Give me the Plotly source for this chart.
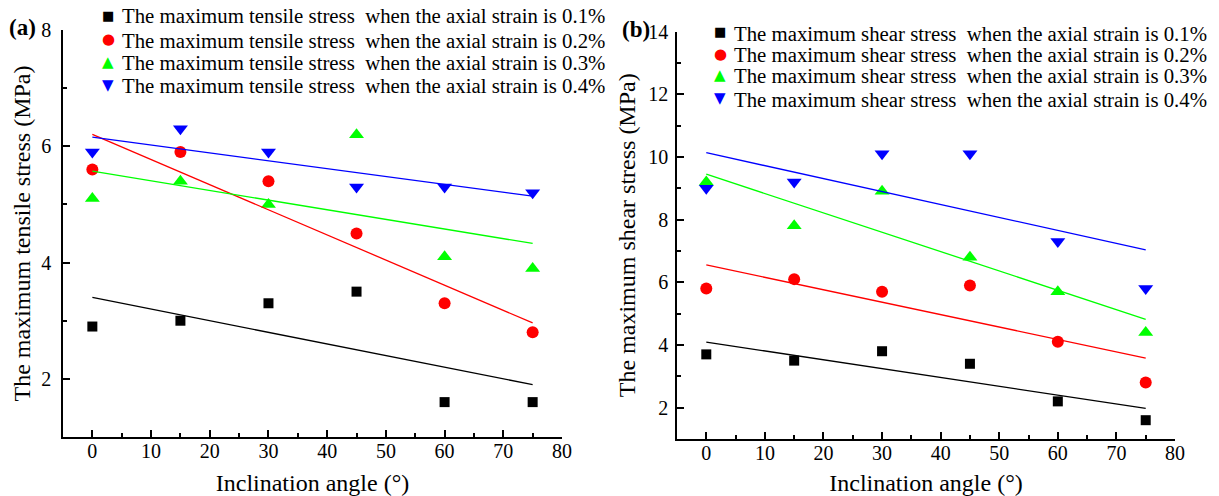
import numpy as np
import plotly.graph_objects as go

angles = [0, 15, 30, 45, 60, 75]
strain_labels = ["0.1%", "0.2%", "0.3%", "0.4%"]

tensile_01 = [2.9, 3.0, 3.3, 3.5, 1.6, 1.6]
tensile_02 = [5.6, 5.9, 5.4, 4.5, 3.3, 2.8]
tensile_03 = [5.1, 5.4, 5.0, 6.2, 4.1, 3.9]
tensile_04 = [5.9, 6.3, 5.9, 5.3, 5.3, 5.2]

shear_01 = [3.7, 3.5, 3.8, 3.4, 2.2, 1.6]
shear_02 = [5.8, 6.1, 5.7, 5.9, 4.1, 2.8]
shear_03 = [9.2, 7.8, 8.9, 6.8, 5.7, 4.4]
shear_04 = [9.0, 9.2, 10.1, 10.1, 7.3, 5.8]

colors = ["#000000", "#FF0000", "#00FF00", "#0000FF"]
symbols = ["square", "circle", "triangle-up", "triangle-down"]
glyphs = ["\u25A0", "\u25CF", "\u25B2", "\u25BC"]
glyph_sizes = [13, 15, 15, 15]
sizes = [10, 12, 13, 13]
FONT = "Liberation Serif"

W, H = 1219, 496
fig = go.Figure()
annotations = []


def add_panel(series, kind, xa, ya, leg_x, leg_rows):
    for i, ys in enumerate(series):
        name = f"The maximum {kind} stress \u00a0when the axial strain is {strain_labels[i]}"
        fig.add_trace(go.Scatter(
            x=angles, y=ys, mode="markers", xaxis=xa, yaxis=ya, name=name,
            marker=dict(symbol=symbols[i], color=colors[i], size=sizes[i], line=dict(width=0)),
            showlegend=False,
        ))
        # legend row (symbol + text) as annotations
        annotations.append(dict(
            text=f"<span style='color:{colors[i]}'>{glyphs[i]}</span>",
            x=leg_x / W, y=1 - leg_rows[i] / H, xref="paper", yref="paper",
            xanchor="center", yanchor="middle", showarrow=False,
            font=dict(family="DejaVu Sans", size=glyph_sizes[i], color=colors[i])))
        annotations.append(dict(
            text=name, x=(leg_x + 12) / W, y=1 - (leg_rows[i] + 1) / H, xref="paper", yref="paper",
            xanchor="left", yanchor="middle", showarrow=False,
            font=dict(family=FONT, size=20.8, color="black")))
    for i, ys in enumerate(series):
        k, b = np.polyfit(angles, ys, 1)
        xs = [angles[0], angles[-1]]
        fig.add_trace(go.Scatter(
            x=xs, y=[k * v + b for v in xs], mode="lines", xaxis=xa, yaxis=ya,
            line=dict(color=colors[i], width=1.3), showlegend=False, hoverinfo="skip",
        ))


add_panel([tensile_01, tensile_02, tensile_03, tensile_04], "tensile", "x", "y", 108, [15, 39, 62, 85])
add_panel([shear_01, shear_02, shear_03, shear_04], "shear", "x2", "y2", 720, [32, 54, 75, 98])

axis_common = dict(
    showline=True, linecolor="black", linewidth=1.5, mirror=False,
    ticks="inside", ticklen=7, tickwidth=1.5, tickcolor="black",
    showgrid=False, zeroline=False, automargin=False,
    tickfont=dict(family=FONT, size=20, color="black"),
    minor=dict(ticks="inside", ticklen=4, tickwidth=1.5, tickcolor="black", showgrid=False),
)

xdom_a = [63 / W, 562 / W]
xdom_b = [677 / W, 1175 / W]
ydom_a = [1 - 437 / H, 1 - 30 / H]
ydom_b = [1 - 439 / H, 1 - 31.5 / H]
TITLE = dict(family=FONT, size=24, color="black")

fig.update_layout(
    width=W, height=H,
    margin=dict(l=0, r=0, t=0, b=0),
    paper_bgcolor="white", plot_bgcolor="white",
    font=dict(family=FONT, color="black"),
    showlegend=False,
    xaxis=dict(domain=xdom_a, range=[-5, 80], dtick=10, tick0=0, anchor="y",
               minor_dtick=5, ticklabelstandoff=-5,
               title=dict(text="Inclination angle (°)", font=TITLE, standoff=13),
               **axis_common),
    yaxis=dict(domain=ydom_a, range=[1, 8], dtick=2, tick0=0, anchor="x",
               minor_dtick=1, ticklabelstandoff=6,
               title=dict(text="The maximum tensile stress (MPa)", font=TITLE, standoff=4),
               **axis_common),
    xaxis2=dict(domain=xdom_b, range=[-5, 80], dtick=10, tick0=0, anchor="y2",
                minor_dtick=5, ticklabelstandoff=-5,
                title=dict(text="Inclination angle (°)", font=TITLE, standoff=13),
                **axis_common),
    yaxis2=dict(domain=ydom_b, range=[1, 14], dtick=2, tick0=0, anchor="x2",
                minor_dtick=1, ticklabelstandoff=3,
                title=dict(text="The maximum shear stress (MPa)", font=TITLE, standoff=6),
                **axis_common),
    annotations=annotations + [
        dict(text="<b>(a)</b>", x=7 / W, y=1 - 28 / H, xref="paper", yref="paper",
             xanchor="left", yanchor="middle", showarrow=False,
             font=dict(family=FONT, size=23, color="black")),
        dict(text="<b>(b)</b>", x=620 / W, y=1 - 29 / H, xref="paper", yref="paper",
             xanchor="left", yanchor="middle", showarrow=False,
             font=dict(family=FONT, size=23, color="black")),
    ],
)

fig.write_html("out.html", config={"displayModeBar": False},
               post_script="document.body.style.margin='0px';document.body.style.overflow='hidden';")
